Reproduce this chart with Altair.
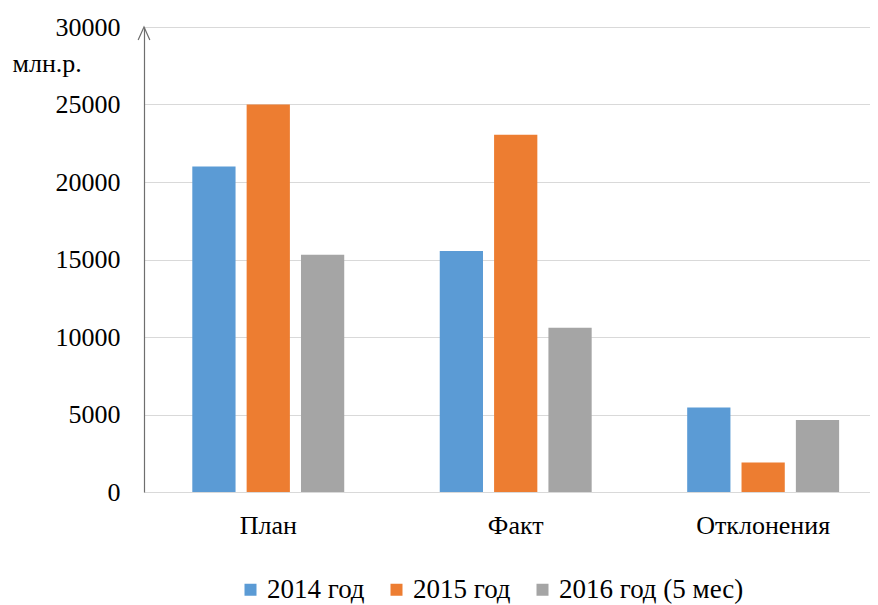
import altair as alt
import pandas as pd

categories = ["План", "Факт", "Отклонения"]
series = ["2014 год", "2015 год", "2016 год (5 мес)"]
values_2014 = [21000, 15550, 5450]
values_2015 = [25000, 23050, 1900]
values_2016 = [15300, 10600, 4650]
colors = ["#5b9bd5", "#ed7d31", "#a5a5a5"]
y_ticks = [0, 5000, 10000, 15000, 20000, 25000, 30000]
y_unit = "млн.р."

rows = []
for s, vals in zip(series, [values_2014, values_2015, values_2016]):
    for c, v in zip(categories, vals):
        rows.append({"cat": c, "series": s, "value": v})
df = pd.DataFrame(rows)

FONT = "Liberation Serif"

bars = alt.Chart(df).mark_bar().encode(
    x=alt.X("cat:N", sort=categories,
            scale=alt.Scale(paddingInner=0.386, paddingOuter=0.16, align=0.61),
            axis=alt.Axis(title=None, labelAngle=0, ticks=False, domainColor="#d9d9d9",
                          labelFont=FONT, labelFontSize=26, labelColor="#000000",
                          labelPadding=20)),
    xOffset=alt.XOffset("series:N", sort=series, scale=alt.Scale(paddingInner=0.204, paddingOuter=0)),
    y=alt.Y("value:Q", scale=alt.Scale(domain=[0, 30000], nice=False),
            axis=alt.Axis(values=y_ticks, format="d", title=y_unit, titleAngle=0, titleAlign="left",
                          titleBaseline="alphabetic", titleX=-132, titleY=44,
                          titleFont=FONT, titleFontSize=26, titleFontWeight="normal",
                          titleColor="#000000",
                          ticks=False, domainColor="#6e6e6e", domainWidth=1.2,
                          gridColor="#d9d9d9", gridWidth=1.2,
                          labelFont=FONT, labelFontSize=26, labelColor="#000000",
                          labelPadding=24)),
    color=alt.Color("series:N", sort=series,
                    scale=alt.Scale(domain=series, range=colors),
                    legend=alt.Legend(title=None, orient="none", direction="horizontal",
                                      legendX=93, legendY=549,
                                      symbolType="square", symbolSize=144,
                                      symbolStrokeWidth=0, labelLimit=400,
                                      labelFont=FONT, labelFontSize=27, labelColor="#000000",
                                      columnPadding=18, labelOffset=3)),
)

arrow_df = pd.DataFrame({"value": [30000]})
arrow = alt.Chart(arrow_df).mark_point(
    shape="M-0.9,2L0,0L0.9,2", size=169, filled=False, color="#6e6e6e", strokeWidth=1.2, opacity=1
).encode(y=alt.Y("value:Q"), x=alt.value(0))

chart = alt.layer(bars, arrow).properties(
    width=726, height=465,
    autosize=alt.AutoSizeParams(type="none"),
    padding={"left": 136, "top": 19, "right": 0, "bottom": 113},
).configure_view(stroke=None)

chart.save("out.html", embed_options={"renderer": "svg", "actions": False})
